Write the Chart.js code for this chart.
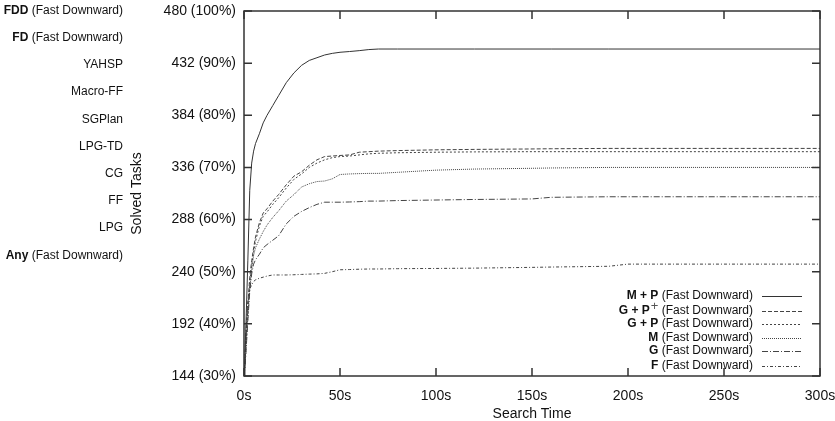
<!DOCTYPE html>
<html>
<head>
<meta charset="utf-8">
<script src="https://cdn.jsdelivr.net/npm/chart.js@4/dist/chart.umd.min.js"></script>
<style>
  html, body { margin: 0; padding: 0; background: #fff; }
  #wrap { width: 835px; height: 421px; position: relative; }
</style>
</head>
<body>
<div id="wrap"><canvas id="solved-chart" width="835" height="421"></canvas></div>
<script>
// search time in seconds (shared sample points)
var times = [0, 0.5, 1, 2, 3, 4, 5, 6, 8, 10, 12, 15, 18, 22, 26, 30, 34, 38, 42, 46, 50, 55, 60, 65, 70, 80, 100, 120, 150, 160, 190, 200, 250, 300];

// solved tasks per configuration
var mp    = [144, 165, 190, 250, 315, 340, 351, 358, 367, 377, 384, 393, 402, 414, 423, 430, 434.5, 437, 439.5, 441, 442, 442.7, 443.5, 444.5, 445, 445, 445, 445, 445, 445, 445, 445, 445, 445];
var gpPlus = [144, 158, 176, 210, 235, 250, 262, 272, 285, 294, 298, 305, 311, 320, 328, 332, 338, 343, 346, 346.5, 347, 347.5, 350, 350.5, 351, 351.5, 352.2, 352.6, 353, 353.2, 353.5, 353.5, 353.5, 353.5];
var gp    = [144, 156, 172, 205, 230, 246, 258, 268, 282, 291, 295, 302, 308, 317, 325, 330, 336, 340, 343, 345, 346, 346.5, 347.5, 348.5, 349, 349.5, 350, 350.3, 350.5, 350.5, 350.5, 350.5, 350.5, 350.5];
var m     = [144, 154, 168, 198, 225, 242, 255, 262, 270, 277, 283, 290, 296, 305, 311, 318, 321, 323, 323.5, 325.5, 329.5, 330, 330.3, 330.5, 330.5, 331.5, 333.5, 334.5, 335.2, 335.5, 336, 336, 336, 336];
var g     = [144, 152, 165, 195, 222, 238, 247, 251, 256, 262, 265, 269, 273, 284, 291, 295.5, 299, 302, 304, 304, 304, 304.2, 304.5, 305, 305, 305.5, 306, 306.5, 307, 308.5, 309, 309, 309, 309];
var f     = [144, 160, 185, 212, 224, 228, 231, 232.5, 234, 235, 236, 237, 237, 237, 237.2, 237.5, 237.8, 238, 238.5, 240, 241.8, 242, 242.3, 242.5, 242.5, 242.8, 243, 243.3, 244, 244.3, 245, 247, 247, 247];

// legend names: [bold part, superscript, normal part]
var seriesNames = [
    ['M + P', '', ' (Fast Downward)'],
    ['G + P', '+', ' (Fast Downward)'],
    ['G + P', '', ' (Fast Downward)'],
    ['M', '', ' (Fast Downward)'],
    ['G', '', ' (Fast Downward)'],
    ['F', '', ' (Fast Downward)']
];
var seriesValues = [mp, gpPlus, gp, m, g, f];
var seriesDash = [[], [4, 2], [2, 2], [1, 1], [6, 2, 1, 2], [3, 2, 1, 2]];

// leftover planner labels at the left of the figure: [bold, normal]
var sideLabels = [
    ['FDD', ' (Fast Downward)'],
    ['FD', ' (Fast Downward)'],
    ['', 'YAHSP'],
    ['', 'Macro-FF'],
    ['', 'SGPlan'],
    ['', 'LPG-TD'],
    ['', 'CG'],
    ['', 'FF'],
    ['', 'LPG'],
    ['Any', ' (Fast Downward)']
];

var FONT = '"Liberation Sans", Arial, Helvetica, sans-serif';

function toPoints(vals) {
    return times.map(function (t, i) { return { x: t, y: vals[i] }; });
}

// draws bold + sup + normal text right-aligned at x
function drawMixed(ctx, bold, sup, normal, x, y, size) {
    var supSize = size + 1;
    ctx.font = size + 'px ' + FONT;
    var wn = ctx.measureText(normal).width;
    ctx.font = supSize + 'px ' + FONT;
    var ws = sup ? ctx.measureText(sup).width + 1 : 0;
    ctx.font = 'bold ' + size + 'px ' + FONT;
    var wb = ctx.measureText(bold).width;
    var x0 = x - wn - ws - wb;
    ctx.textAlign = 'left';
    ctx.textBaseline = 'middle';
    ctx.fillText(bold, x0, y);
    if (sup) {
        ctx.save();
        ctx.fillStyle = '#555';
        ctx.font = supSize + 'px ' + FONT;
        ctx.fillText(sup, x0 + wb + 1, y - 5);
        ctx.restore();
    }
    ctx.font = size + 'px ' + FONT;
    ctx.fillText(normal, x0 + wb + ws, y);
}

var framePlugin = {
    id: 'frame',
    afterDatasetsDraw: function (chart) {
        var ctx = chart.ctx;
        var a = chart.chartArea;
        var xs = chart.scales.x, ys = chart.scales.y;
        ctx.save();
        ctx.strokeStyle = '#333';
        ctx.lineWidth = 1.5;
        ctx.strokeRect(a.left, a.top, a.right - a.left, a.bottom - a.top);
        ctx.beginPath();
        ys.ticks.forEach(function (t) {
            var py = ys.getPixelForValue(t.value);
            ctx.moveTo(a.left, py); ctx.lineTo(a.left + 8, py);
            ctx.moveTo(a.right, py); ctx.lineTo(a.right - 8, py);
        });
        xs.ticks.forEach(function (t) {
            var px = xs.getPixelForValue(t.value);
            ctx.moveTo(px, a.bottom); ctx.lineTo(px, a.bottom - 8);
            ctx.moveTo(px, a.top); ctx.lineTo(px, a.top + 8);
        });
        ctx.stroke();

        // legend, bottom right inside the plot
        ctx.fillStyle = '#111';
        var rowY = [296, 311, 324, 337.5, 351, 365.5];
        chart.data.datasets.forEach(function (ds, i) {
            var n = seriesNames[i];
            drawMixed(ctx, n[0], n[1], n[2], 753, rowY[i], 12);
            ctx.strokeStyle = ds.borderColor;
            ctx.lineWidth = 1;
            ctx.setLineDash(ds.borderDash);
            ctx.beginPath();
            ctx.moveTo(762, Math.round(rowY[i]) + 0.5);
            ctx.lineTo(802, Math.round(rowY[i]) + 0.5);
            ctx.stroke();
            ctx.setLineDash([]);
        });

        // side labels
        sideLabels.forEach(function (l, i) {
            drawMixed(ctx, l[0], '', l[1], 123, 10.5 + i * 27.2, 12);
        });
        ctx.restore();
    }
};

var ctx = document.getElementById('solved-chart').getContext('2d');
var myChart = new Chart(ctx, {
    type: 'line',
    data: {
        datasets: seriesValues.map(function (vals, i) {
            return {
                label: seriesNames[i][0] + seriesNames[i][1] + seriesNames[i][2],
                data: toPoints(vals),
                borderColor: i === 0 ? '#333' : '#444',
                borderWidth: 1,
                borderDash: seriesDash[i],
                pointRadius: 0,
                tension: 0,
                fill: false
            };
        })
    },
    options: {
        responsive: false,
        animation: false,
        layout: { padding: { left: 0, right: 15, top: 11, bottom: 0 } },
        plugins: {
            legend: { display: false },
            tooltip: { enabled: false }
        },
        scales: {
            x: {
                type: 'linear',
                min: 0,
                max: 300,
                grid: { display: false, drawTicks: false },
                border: { display: false },
                ticks: {
                    stepSize: 50,
                    padding: 12,
                    color: '#111',
                    font: { family: FONT, size: 14 },
                    callback: function (v) { return v + 's'; }
                },
                title: {
                    display: true,
                    text: 'Search Time',
                    color: '#111',
                    font: { family: FONT, size: 14 },
                    padding: { top: 0, bottom: -2 }
                },
                afterFit: function (scale) {
                    scale.height = 45;
                    scale.paddingLeft = 0;
                    scale.paddingRight = 0;
                }
            },
            y: {
                min: 144,
                max: 480,
                grid: { display: false, drawTicks: false },
                border: { display: false },
                ticks: {
                    stepSize: 48,
                    padding: 8,
                    color: '#111',
                    font: { family: FONT, size: 14 },
                    callback: function (v) { return v + ' (' + Math.round(v / 480 * 100) + '%)'; }
                },
                title: {
                    display: true,
                    text: 'Solved Tasks',
                    color: '#111',
                    font: { family: FONT, size: 14 },
                    padding: { top: 129, bottom: 0 }
                },
                afterFit: function (scale) {
                    scale.width = 244;
                    scale.paddingTop = 0;
                    scale.paddingBottom = 0;
                }
            }
        }
    },
    plugins: [framePlugin]
});
</script>
</body>
</html>
